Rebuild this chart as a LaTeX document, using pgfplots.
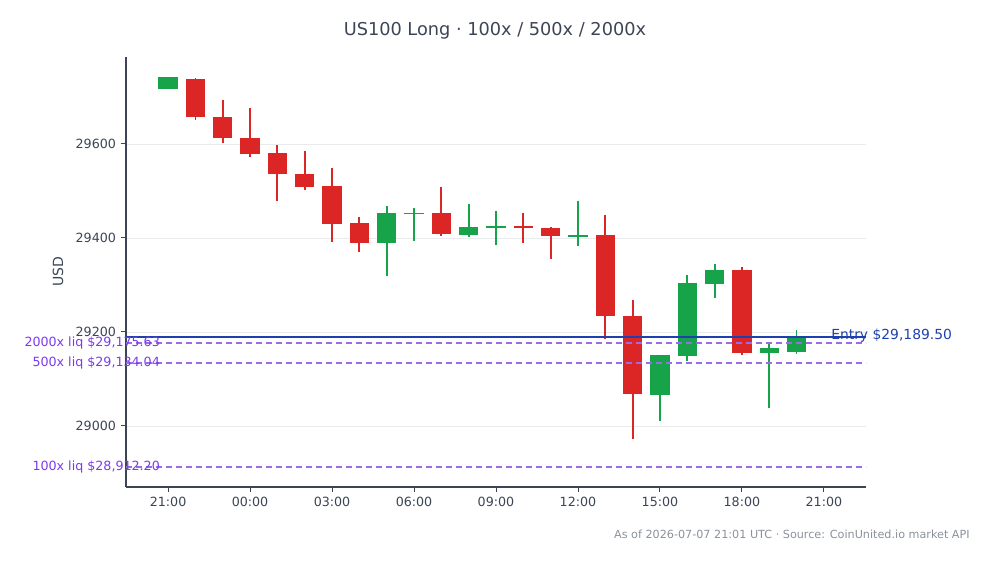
\documentclass[border=0pt]{standalone}
\usepackage{pgfplots}
\pgfplotsset{compat=1.18}
\usepackage{pgfplotstable}
\usepackage{fontspec}
\setmainfont{DejaVu Sans}
\usetikzlibrary{calc}
\definecolor{grn}{HTML}{16A34A}
\definecolor{red}{HTML}{DC2626}
\definecolor{entryc}{HTML}{1E40AF}
\definecolor{liqline}{HTML}{9B6BE8}
\definecolor{liqtext}{HTML}{7C3AED}
\definecolor{textc}{HTML}{3B4556}
\definecolor{axisc}{HTML}{3B4556}
\definecolor{gridc}{HTML}{E8EAEE}
\definecolor{footc}{HTML}{8A919C}

% t = hours after 21:00 on day 1
\pgfplotstableread{
t o h l c
0 29716 29742 29716 29742
8 29389 29468 29320 29453
9 29450 29463 29394 29453
11 29407 29472 29403 29423
12 29422 29457 29386 29425
15 29403 29479 29383 29406
18 29065 29151 29011 29151
19 29148 29321 29138 29304
20 29303 29345 29273 29332
22 29156 29176 29039 29166
23 29158 29204 29153 29190
}\greentab

\pgfplotstableread{
t o h l c
1 29738 29741 29651 29658
2 29657 29694 29603 29613
3 29612 29676 29572 29579
4 29580 29598 29479 29535
5 29536 29584 29501 29509
6 29511 29548 29392 29430
7 29431 29445 29369 29389
10 29453 29509 29404 29409
13 29425 29454 29390 29422
14 29421 29424 29355 29405
16 29406 29449 29184 29233
17 29234 29268 28973 29067
21 29332 29339 29151 29156
}\redtab

\begin{document}
\begin{tikzpicture}
\begin{axis}[
  name=ax,
  scale only axis,
  clip=false,
  width=555pt, height=322.5pt,
  xmin=-1.54, xmax=25.54, ymin=28870, ymax=29785,
  axis x line*=bottom, axis y line*=left,
  xtick={0,3,...,24},
  xticklabels={21:00,00:00,03:00,06:00,09:00,12:00,15:00,18:00,21:00},
  ytick={29000,29200,29400,29600},
  scaled y ticks=false,
  yticklabel style={/pgf/number format/1000 sep={}},
  /pgf/number format/assume math mode=true,
  tick align=outside,
  major tick length=4pt,
  ymajorgrids,
  grid style={color=gridc, line width=0.6pt},
  axis line style={color=axisc, line width=0.9pt},
  tick style={color=axisc, line width=0.7pt},
  ticklabel style={font=\fontsize{9.5}{11}\selectfont, color=textc},
  cbody/.style={draw=none, no markers, forget plot,
    error bars/.cd, y dir=minus, y explicit, error mark=none,
    error bar style={line width=14.5pt, color=#1}},
  cwick/.style={draw=none, no markers, forget plot,
    error bars/.cd, y dir=minus, y explicit, error mark=none,
    error bar style={line width=1.35pt, color=#1}},
  liq/.style={draw=liqline, solid, line width=1.4pt, dash pattern=on 4.5pt off 3pt, no markers, forget plot},
]
% wicks
\addplot[cwick=grn] table[x=t, y=h, y error minus expr=\thisrow{h}-\thisrow{l}] {\greentab};
\addplot[cwick=red] table[x=t, y=h, y error minus expr=\thisrow{h}-\thisrow{l}] {\redtab};
% bodies
\addplot[cbody=grn] table[x=t, y=c, y error minus expr=\thisrow{c}-\thisrow{o}] {\greentab};
\addplot[cbody=red] table[x=t, y=o, y error minus expr=\thisrow{o}-\thisrow{c}] {\redtab};
% level lines
\addplot[liq] coordinates {(-1.54,28912.20) (25.54,28912.20)};
\addplot[liq] coordinates {(-1.54,29134.04) (25.54,29134.04)};
\addplot[liq] coordinates {(-1.54,29175.63) (25.54,29175.63)};
\addplot[draw=entryc, line width=1.6pt, no markers, forget plot] coordinates {(-1.54,29189.50) (25.54,29189.50)};
% labels
\node[anchor=west, text=entryc, font=\fontsize{10.4}{12}\selectfont, inner sep=0pt] at (axis cs:24.26,29192) {Entry \$29,189.50};
\node[anchor=east, text=liqtext, font=\fontsize{9.5}{11}\selectfont, inner sep=0pt] at (axis cs:-0.29,29175.63) {2000x liq \$29,175.63};
\node[anchor=east, text=liqtext, font=\fontsize{9.5}{11}\selectfont, inner sep=0pt] at (axis cs:-0.29,29134.04) {500x liq \$29,134.04};
\node[anchor=east, text=liqtext, font=\fontsize{9.5}{11}\selectfont, inner sep=0pt] at (axis cs:-0.29,28912.20) {100x liq \$28,912.20};
\node[rotate=90, text=textc, font=\fontsize{10.5}{12}\selectfont] at (axis description cs:-0.092,0.5) {USD};
\node[text=textc, font=\fontsize{13.3}{15}\selectfont] at (axis description cs:0.4986,1.0605) {US100 Long · 100x / 500x / 2000x};
\node[anchor=east, text=footc, font=\fontsize{8.4}{10}\selectfont, inner sep=0pt] at (axis description cs:1.1405,-0.1093) {As of 2026-07-07 21:01 UTC · Source: CoinUnited.io market API};
\end{axis}
\pgfresetboundingbox
\path[use as bounding box] ($(ax.south west)+(-94.5pt,-57.75pt)$) rectangle ($(ax.north east)+(96pt,42.75pt)$);
\end{tikzpicture}
\end{document}
